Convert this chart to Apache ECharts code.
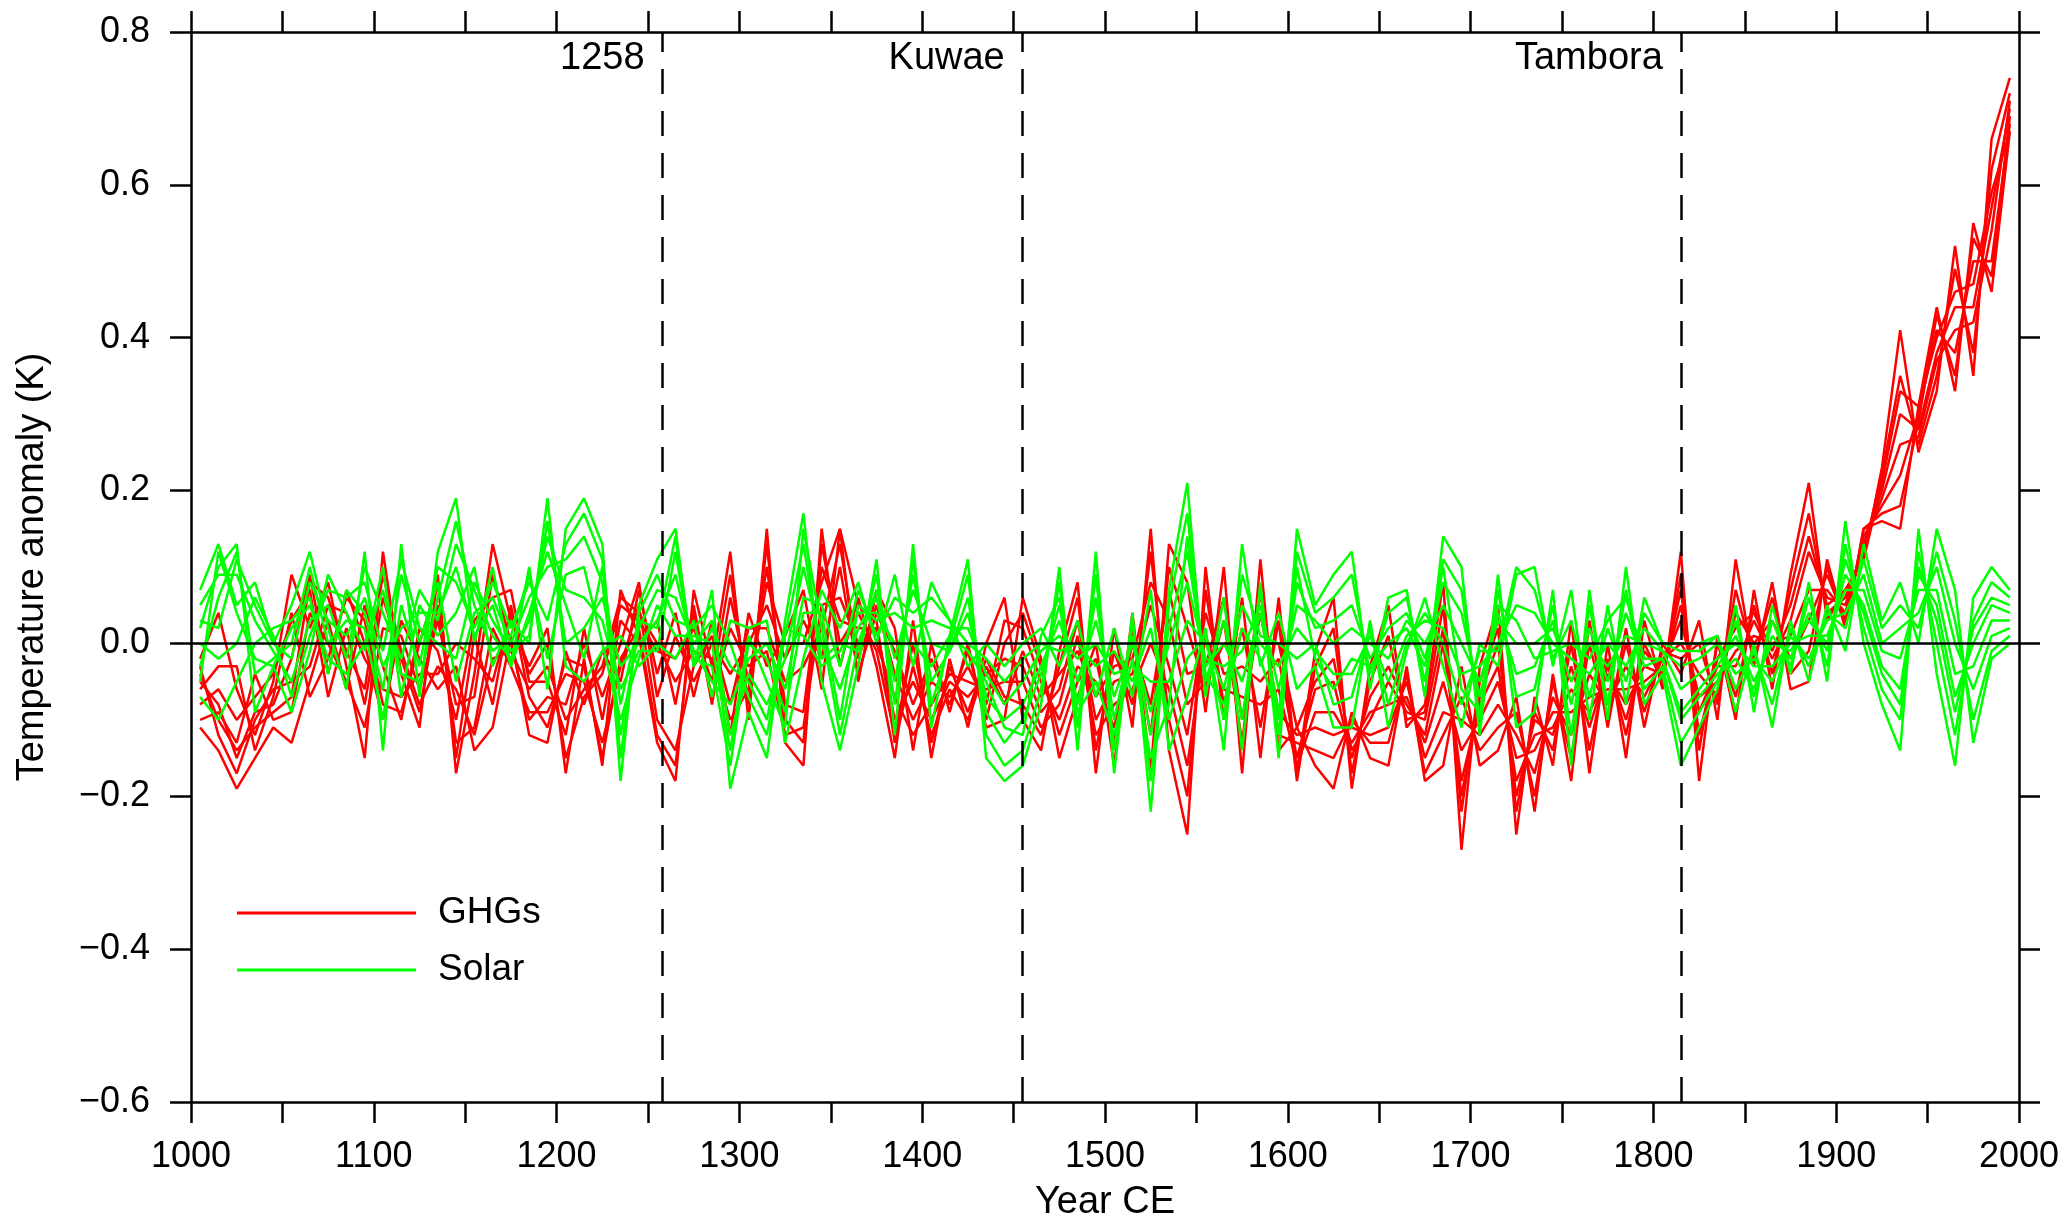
<!DOCTYPE html>
<html>
<head>
<meta charset="utf-8">
<title>GHG and solar ensemble temperature anomalies</title>
<script src="https://cdn.jsdelivr.net/npm/echarts@6/dist/echarts.min.js"></script>
<style>
  html, body { margin: 0; padding: 0; background: #ffffff; }
  #chart { width: 2069px; height: 1221px; }
</style>
</head>
<body>
<div id="chart"></div>
<script>
// Decadal-mean years (centres of each decade)
const years = [1005,1015,1025,1035,1045,1055,1065,1075,1085,1095,
  1105,1115,1125,1135,1145,1155,1165,1175,1185,1195,
  1205,1215,1225,1235,1245,1255,1265,1275,1285,1295,
  1305,1315,1325,1335,1345,1355,1365,1375,1385,1395,
  1405,1415,1425,1435,1445,1455,1465,1475,1485,1495,
  1505,1515,1525,1535,1545,1555,1565,1575,1585,1595,
  1605,1615,1625,1635,1645,1655,1665,1675,1685,1695,
  1705,1715,1725,1735,1745,1755,1765,1775,1785,1795,
  1805,1815,1825,1835,1845,1855,1865,1875,1885,1895,
  1905,1915,1925,1935,1945,1955,1965,1975,1985,1995];

// GHG-only ensemble members, temperature anomaly (K)
const ghgRun1 = [-0.02,0.04,-0.06,-0.12,-0.05,0.09,0.02,0.08,-0.03,-0.15,
  0.12,-0.04,-0.11,0.09,-0.17,-0.04,0.13,0.03,-0.03,0.02,
  -0.17,-0.02,-0.16,0.07,0.01,-0.13,-0.18,0.07,-0.03,0.12,
  -0.10,0.15,-0.13,-0.16,0.15,-0.03,0.06,-0.03,-0.15,0.03,
  -0.15,-0.02,-0.11,0.00,0.06,-0.10,-0.14,-0.01,0.08,-0.17,
  0.02,-0.11,0.15,-0.14,-0.25,0.10,-0.10,0.06,-0.15,0.06,
  -0.17,-0.01,0.06,-0.19,-0.03,0.05,-0.11,-0.08,0.08,-0.27,
  -0.03,0.05,-0.25,-0.07,-0.16,0.03,-0.17,0.00,-0.15,0.03,
  -0.06,0.12,-0.18,0.01,-0.10,0.07,-0.06,0.09,0.21,0.03,
  0.07,0.11,0.23,0.41,0.25,0.33,0.52,0.35,0.66,0.74];
const ghgRun2 = [-0.05,-0.08,-0.15,-0.09,-0.08,-0.02,0.09,-0.04,0.07,0.00,
  -0.10,0.03,-0.02,-0.06,-0.03,-0.14,-0.11,0.01,-0.12,-0.13,
  -0.01,-0.08,-0.01,-0.05,0.07,-0.04,0.04,-0.07,0.03,-0.12,
  0.04,-0.03,0.01,0.07,-0.06,0.15,-0.05,0.07,0.02,-0.14,
  0.00,-0.09,0.00,-0.11,-0.10,0.06,-0.02,-0.15,-0.07,0.00,
  -0.16,0.04,-0.17,0.13,0.08,-0.09,0.10,-0.17,0.11,-0.14,
  -0.11,-0.16,-0.19,-0.09,-0.15,-0.16,-0.03,-0.18,-0.16,-0.03,
  -0.16,-0.14,-0.07,-0.22,-0.04,-0.18,0.03,-0.11,0.02,-0.11,
  0.00,-0.04,0.03,-0.10,0.11,-0.03,0.08,-0.06,-0.05,0.11,
  0.02,0.15,0.16,0.15,0.31,0.44,0.33,0.55,0.46,0.67];
const ghgRun3 = [-0.11,-0.14,-0.19,-0.15,-0.11,-0.13,-0.05,0.03,-0.06,0.05,
  -0.03,-0.10,0.02,-0.01,-0.10,0.03,0.06,0.07,-0.05,-0.05,
  -0.12,0.02,-0.10,0.03,0.00,0.03,-0.08,0.05,-0.08,0.06,
  -0.05,0.10,-0.08,-0.09,0.10,0.03,0.02,0.02,-0.10,-0.05,
  -0.10,-0.05,-0.07,-0.04,-0.02,-0.03,-0.09,-0.06,0.03,-0.10,
  -0.05,-0.04,0.05,-0.03,-0.12,0.04,-0.04,-0.03,-0.05,-0.02,
  -0.15,-0.06,-0.05,-0.15,-0.07,-0.03,-0.08,-0.12,0.00,-0.18,
  -0.08,-0.03,-0.18,-0.12,-0.11,-0.06,-0.09,-0.04,-0.08,-0.03,
  -0.04,0.05,-0.09,-0.03,-0.03,0.03,-0.02,0.03,0.12,0.06,
  0.05,0.13,0.20,0.30,0.28,0.38,0.44,0.44,0.57,0.70];
const ghgRun4 = [-0.08,-0.06,-0.10,-0.07,-0.04,0.03,0.07,-0.07,0.02,-0.08,
  0.06,-0.02,-0.09,0.05,-0.13,-0.11,0.02,-0.03,-0.09,-0.09,
  -0.04,-0.05,-0.13,-0.03,0.05,-0.10,-0.14,-0.03,0.01,-0.08,
  0.02,0.02,-0.05,-0.03,0.02,0.13,-0.02,0.05,-0.04,-0.10,
  -0.05,-0.07,-0.03,-0.08,0.03,0.02,-0.05,-0.10,-0.03,-0.05,
  -0.11,0.00,-0.08,0.07,-0.04,-0.03,0.06,-0.10,0.04,-0.09,
  -0.12,-0.11,-0.12,-0.11,-0.12,-0.11,-0.05,-0.15,-0.09,-0.10,
  -0.12,-0.08,-0.12,-0.17,-0.07,-0.12,-0.04,-0.08,-0.03,-0.07,
  -0.02,0.00,-0.04,-0.07,0.04,0.00,0.03,-0.02,0.03,0.09,
  0.03,0.14,0.18,0.22,0.30,0.41,0.38,0.50,0.50,0.68];
const ghgRun5 = [-0.03,-0.12,-0.17,-0.10,-0.06,-0.05,-0.03,0.05,0.04,-0.02,
  -0.06,-0.07,-0.04,-0.04,0.00,-0.02,-0.05,0.04,-0.04,0.00,
  -0.15,-0.07,-0.04,0.05,0.03,-0.01,-0.02,0.02,-0.05,0.09,
  -0.08,0.13,-0.10,-0.13,0.13,0.00,0.04,-0.01,-0.12,0.00,
  -0.13,-0.03,-0.09,-0.02,-0.07,-0.08,-0.12,-0.03,0.06,-0.14,
  -0.01,-0.08,0.12,-0.10,-0.20,0.07,-0.08,0.02,-0.11,0.03,
  -0.18,-0.03,0.02,-0.17,-0.05,0.01,-0.10,-0.09,0.05,-0.22,
  -0.05,0.02,-0.22,-0.09,-0.14,0.00,-0.14,-0.02,-0.12,0.00,
  -0.05,0.09,-0.14,0.00,-0.07,0.05,-0.04,0.07,0.17,0.04,
  0.06,0.12,0.22,0.35,0.26,0.35,0.49,0.38,0.62,0.72];
const ghgRun6 = [-0.10,-0.09,-0.13,-0.04,-0.10,-0.09,0.04,0.00,-0.05,-0.11,
  0.02,0.01,-0.06,0.03,-0.08,-0.07,0.09,0.00,-0.10,-0.07,
  -0.08,0.00,-0.07,0.00,0.08,-0.07,0.01,-0.05,0.00,-0.04,
  0.00,0.05,-0.02,0.03,-0.02,0.10,-0.04,0.04,-0.01,-0.08,
  -0.02,-0.08,-0.01,-0.10,0.00,0.04,-0.03,-0.12,-0.05,-0.02,
  -0.13,0.02,-0.12,0.10,0.02,-0.06,0.03,-0.13,0.07,-0.12,
  -0.13,-0.14,-0.15,-0.10,-0.13,-0.13,-0.04,-0.17,-0.12,-0.07,
  -0.14,-0.11,-0.09,-0.20,-0.05,-0.15,0.00,-0.10,0.00,-0.09,
  -0.01,-0.02,0.00,-0.08,0.07,-0.02,0.06,-0.04,-0.01,0.10,
  0.02,0.15,0.17,0.18,0.29,0.43,0.35,0.53,0.48,0.69];
const ghgRun7 = [-0.06,-0.03,-0.03,-0.14,-0.07,0.04,-0.07,-0.02,0.06,0.03,
  -0.08,-0.09,0.00,0.08,-0.15,0.01,-0.08,0.05,-0.07,-0.11,
  -0.02,-0.03,-0.15,-0.02,0.02,-0.12,-0.16,0.04,-0.07,0.02,
  -0.03,-0.01,-0.12,-0.11,0.05,0.06,0.00,0.00,-0.07,-0.12,
  -0.08,-0.04,-0.05,-0.06,-0.05,-0.05,-0.11,-0.08,0.01,-0.12,
  -0.08,-0.06,0.00,-0.06,-0.16,0.01,-0.06,-0.07,-0.08,-0.06,
  -0.16,-0.09,-0.09,-0.13,-0.09,-0.08,-0.07,-0.13,-0.05,-0.14,
  -0.10,-0.05,-0.15,-0.14,-0.09,-0.09,-0.07,-0.06,-0.06,-0.05,
  -0.03,0.03,-0.07,-0.05,-0.01,0.01,0.00,0.01,0.07,0.07,
  0.04,0.13,0.19,0.26,0.27,0.37,0.41,0.42,0.54,0.71];
const ghgRun8 = [-0.04,-0.10,-0.14,-0.11,-0.09,-0.07,0.08,0.06,-0.01,-0.06,
  0.09,-0.01,-0.08,-0.03,-0.06,-0.12,-0.02,-0.01,-0.06,-0.03,
  -0.10,-0.06,-0.03,0.06,0.04,0.00,-0.05,-0.01,-0.02,-0.10,
  -0.06,0.08,0.00,0.00,0.08,0.15,0.05,0.03,-0.13,-0.03,
  -0.12,-0.06,-0.10,-0.03,-0.08,-0.01,-0.07,-0.04,-0.01,-0.07,
  -0.03,-0.02,0.08,0.03,-0.08,-0.05,0.00,0.00,0.00,0.00,
  -0.11,-0.05,-0.02,-0.14,-0.10,-0.05,-0.09,-0.10,0.02,-0.20,
  -0.07,0.00,-0.20,-0.10,-0.12,-0.03,-0.11,-0.03,-0.10,-0.01,
  -0.04,0.07,-0.12,-0.02,0.02,0.04,-0.01,0.05,0.14,0.05,
  0.07,0.11,0.21,0.33,0.31,0.40,0.46,0.47,0.59,0.67];

// Solar-only ensemble members, temperature anomaly (K)
const solarRun1 = [0.07,0.13,0.05,0.08,0.00,0.05,0.12,0.02,-0.06,0.12,
  -0.14,0.13,-0.07,0.12,0.19,0.00,0.10,-0.03,0.10,-0.06,
  0.15,0.19,0.13,-0.18,0.05,0.11,0.15,-0.03,0.07,-0.19,
  -0.09,-0.15,0.03,0.17,-0.05,-0.14,-0.03,0.11,-0.12,0.13,
  -0.11,0.01,0.11,-0.15,-0.18,-0.16,-0.08,0.10,-0.14,0.12,
  -0.17,0.04,-0.22,0.07,0.21,-0.07,0.06,-0.14,0.08,-0.15,
  0.15,0.05,0.09,0.12,-0.06,0.06,0.07,-0.07,0.14,0.10,
  -0.12,0.09,-0.11,-0.09,0.07,-0.16,0.07,-0.10,0.10,-0.08,
  -0.04,-0.16,-0.11,-0.06,0.05,-0.09,0.05,-0.04,0.08,-0.05,
  0.16,0.00,-0.08,-0.14,0.15,-0.04,-0.16,0.06,0.10,0.07];
const solarRun2 = [0.02,0.10,0.13,-0.09,-0.03,-0.09,-0.01,0.09,0.04,-0.01,
  0.10,-0.07,0.05,0.01,0.04,0.10,-0.03,0.03,0.00,0.19,
  -0.03,-0.05,-0.01,0.01,-0.03,0.00,-0.02,0.03,-0.07,0.03,
  0.02,0.03,-0.13,-0.02,0.07,0.02,0.08,0.00,0.09,-0.03,
  0.08,0.03,-0.03,0.00,-0.03,0.00,0.02,-0.03,0.03,-0.07,
  0.02,-0.07,0.07,-0.14,-0.07,0.02,-0.14,0.13,-0.03,0.04,
  -0.06,-0.03,-0.11,-0.11,0.03,-0.11,-0.01,0.06,-0.03,-0.11,
  0.00,-0.03,0.09,0.10,-0.03,0.07,-0.10,0.05,-0.08,0.06,
  0.00,0.00,0.00,0.01,-0.09,0.00,-0.11,0.03,-0.05,0.05,
  -0.01,0.13,0.03,0.08,0.00,0.15,0.07,-0.13,-0.02,0.00];
const solarRun3 = [-0.07,-0.10,-0.05,0.00,0.02,0.03,0.06,-0.04,0.07,0.04,
  -0.06,0.09,0.00,0.08,-0.05,0.04,0.06,0.00,0.06,0.10,
  0.11,0.14,0.08,-0.12,0.02,0.07,0.06,0.00,0.03,-0.12,
  -0.04,-0.08,-0.02,0.10,0.00,-0.06,0.02,0.06,-0.05,0.09,
  -0.05,-0.01,0.06,-0.09,-0.13,-0.10,-0.04,0.05,-0.08,0.06,
  -0.10,0.01,-0.12,0.02,0.12,-0.03,0.00,-0.05,0.04,-0.09,
  0.08,0.02,0.03,0.05,-0.02,0.02,0.04,-0.02,0.08,0.04,
  -0.07,0.04,-0.04,-0.03,0.03,-0.08,0.02,-0.05,0.04,-0.03,
  -0.02,-0.09,-0.06,-0.03,0.01,-0.05,0.00,-0.01,0.03,0.00,
  0.09,0.05,-0.03,-0.06,0.09,0.05,-0.07,0.00,0.05,0.04];
const solarRun4 = [0.05,0.09,0.09,0.03,-0.01,-0.05,0.03,0.05,-0.02,0.10,
  0.04,-0.02,0.07,0.03,0.13,0.07,0.01,-0.02,0.03,0.14,
  0.07,0.06,0.03,-0.06,-0.01,-0.01,0.12,-0.02,-0.03,-0.16,
  0.00,-0.02,-0.09,0.04,0.04,-0.10,0.05,0.03,0.04,0.02,
  0.03,0.02,0.02,-0.04,-0.08,-0.05,-0.01,0.01,-0.02,0.00,
  -0.04,-0.03,-0.05,-0.05,0.03,0.00,-0.06,0.05,0.00,-0.03,
  0.02,-0.01,-0.04,-0.04,0.01,-0.05,0.01,0.03,0.02,-0.04,
  -0.03,0.00,0.05,0.04,0.00,-0.02,-0.04,0.00,-0.03,0.02,
  -0.01,-0.03,-0.02,0.00,-0.04,-0.02,-0.05,0.01,-0.02,0.03,
  0.04,0.09,0.00,0.02,0.04,0.10,0.00,-0.06,0.01,0.02];
const solarRun5 = [-0.03,0.06,0.12,-0.04,-0.02,0.00,0.10,0.00,0.03,0.02,
  -0.10,0.05,-0.03,0.10,0.08,0.02,0.08,0.02,0.08,0.03,
  0.13,0.17,0.11,-0.15,0.04,0.09,0.03,0.02,0.05,0.00,
  -0.07,-0.12,0.01,0.13,-0.02,0.00,-0.01,0.09,-0.08,0.11,
  -0.08,0.00,0.09,-0.12,-0.16,-0.14,-0.06,0.08,-0.11,0.09,
  -0.14,0.03,-0.18,0.05,0.17,-0.05,0.03,-0.10,0.07,-0.12,
  0.12,0.04,0.06,0.09,-0.04,0.04,0.06,-0.05,0.11,0.07,
  -0.10,0.07,-0.07,-0.06,0.05,-0.12,0.05,-0.08,0.07,-0.06,
  -0.03,-0.13,-0.09,-0.05,0.03,-0.07,0.03,-0.03,0.06,-0.03,
  0.13,0.02,-0.06,-0.10,0.12,0.00,-0.12,0.03,0.08,0.06];
const solarRun6 = [0.00,-0.02,0.00,0.06,0.01,-0.07,0.01,0.07,0.06,0.08,
  -0.01,0.11,0.02,0.00,-0.02,0.08,0.03,-0.01,0.01,0.16,
  0.00,0.02,0.06,-0.03,0.00,0.03,0.09,-0.01,-0.05,-0.08,
  -0.02,0.00,-0.06,0.06,0.05,-0.03,0.07,0.01,0.06,0.04,
  0.06,0.03,0.00,-0.02,-0.05,-0.02,0.00,-0.01,0.00,-0.03,
  -0.01,-0.05,0.02,-0.10,-0.02,0.01,-0.10,0.09,0.01,0.00,
  -0.02,0.00,-0.08,-0.07,0.02,-0.08,0.00,0.04,0.00,-0.08,
  -0.01,-0.01,0.10,0.07,-0.02,0.03,-0.07,0.02,-0.05,0.04,
  0.00,-0.01,-0.01,0.01,-0.06,-0.01,-0.08,0.02,-0.03,0.04,
  0.02,0.11,0.02,0.05,0.02,0.12,0.03,-0.10,-0.01,0.01];
const solarRun7 = [-0.05,0.12,0.04,-0.02,-0.03,0.02,0.05,-0.02,-0.04,0.00,
  0.07,-0.04,-0.05,0.06,0.16,0.05,-0.01,0.01,0.09,-0.02,
  0.09,0.10,0.00,-0.10,-0.02,0.05,0.01,0.01,0.00,-0.14,
  0.01,-0.05,-0.11,0.15,0.02,-0.12,0.00,0.07,-0.02,0.07,
  0.00,-0.01,0.04,-0.07,-0.10,-0.08,-0.03,0.03,-0.05,0.03,
  -0.07,0.00,-0.09,0.00,0.08,-0.02,-0.03,-0.01,0.05,-0.06,
  0.05,0.03,0.00,0.02,0.00,-0.02,0.03,0.00,0.05,0.00,
  -0.05,0.03,0.00,0.00,0.02,-0.05,0.00,-0.03,0.01,0.00,
  -0.01,-0.06,-0.04,-0.02,0.00,-0.03,-0.03,0.00,0.01,0.01,
  0.07,0.07,-0.01,-0.02,0.07,0.07,-0.04,-0.03,0.03,0.03];
const solarRun8 = [0.03,0.02,0.11,0.05,0.00,-0.02,0.08,0.03,0.01,0.06,
  -0.03,0.02,0.04,0.04,0.10,0.01,0.05,-0.03,0.04,0.12,
  0.05,-0.02,0.10,-0.08,0.03,0.02,0.14,-0.03,0.02,-0.03,
  -0.05,-0.10,0.02,0.01,-0.03,-0.01,0.04,0.04,0.00,0.00,
  -0.03,0.01,-0.01,-0.05,-0.11,-0.12,0.01,0.06,-0.09,-0.05,
  -0.12,-0.02,-0.15,-0.08,0.14,-0.04,-0.08,0.02,-0.02,-0.10,
  0.10,-0.02,-0.06,-0.02,-0.03,0.00,0.02,-0.03,0.10,-0.06,
  -0.09,0.05,0.03,-0.02,-0.01,0.00,-0.02,0.03,0.06,-0.02,
  -0.02,-0.10,-0.07,-0.04,-0.02,-0.06,0.01,-0.02,0.04,-0.01,
  0.11,0.04,-0.04,-0.08,0.10,0.03,-0.09,0.02,0.06,0.05];

const ghgRuns = [ghgRun1, ghgRun2, ghgRun3, ghgRun4, ghgRun5, ghgRun6, ghgRun7, ghgRun8];
const solarRuns = [solarRun1, solarRun2, solarRun3, solarRun4, solarRun5, solarRun6, solarRun7, solarRun8];

// Major eruptions marked on the record
const eruptionYears = [1258, 1455, 1815];
const eruptionNames = ['1258', 'Kuwae', 'Tambora'];

const FONT = '"Liberation Sans", Arial, sans-serif';
const RED = '#ff0000';
const GREEN = '#00ff00';

function fmtY(v) {
  const s = Math.abs(v).toFixed(1);
  return v < -1e-9 ? '\u2212' + s : s;
}

function runSeries(runs, name, color) {
  return runs.map(run => ({
    name: name,
    type: 'line',
    data: years.map((y, i) => [y, run[i]]),
    showSymbol: false,
    symbol: 'none',
    lineStyle: { color: color, width: 2.5 },
    itemStyle: { color: color },
    emphasis: { disabled: true },
    silent: true,
    z: 3
  }));
}

const axisLine = { show: true, onZero: false, lineStyle: { color: '#000', width: 2.5 } };
const axisTick = { show: true, inside: false, length: 21, lineStyle: { color: '#000', width: 2.5 } };
const labelStyle = { color: '#000', fontFamily: FONT, fontSize: 36 };

const series = []
  .concat(runSeries(ghgRuns, 'GHGs', RED))
  .concat(runSeries(solarRuns, 'Solar', GREEN));

// zero reference line (under the ensemble)
series.push({
  name: 'zero', type: 'line', data: [], z: 1, silent: true,
  markLine: {
    silent: true, symbol: ['none', 'none'], animation: false,
    label: { show: false },
    lineStyle: { color: '#000', width: 2.5, type: 'solid' },
    data: [{ yAxis: 0 }]
  }
});
// eruption markers (over the ensemble)
series.push({
  name: 'eruptions', type: 'line', data: [], z: 6, silent: true,
  markLine: {
    silent: true, symbol: ['none', 'none'], animation: false,
    label: { show: false },
    lineStyle: { color: '#000', width: 2.5, type: [25, 17] },
    data: eruptionYears.map(y => ({ xAxis: y }))
  }
});

const chart = echarts.init(document.getElementById('chart'), null, { renderer: 'canvas' });

chart.setOption({
  animation: false,
  backgroundColor: '#ffffff',
  grid: { left: 191, right: 50, top: 32, bottom: 119, containLabel: false, outerBoundsMode: 'none' },
  legend: {
    data: ['GHGs', 'Solar'],
    orient: 'vertical',
    left: 237,
    top: 893,
    padding: 0,
    icon: 'rect',
    itemWidth: 179,
    itemHeight: 3,
    itemGap: 17,
    selectedMode: false,
    textStyle: { color: '#000', fontFamily: FONT, fontSize: 37, lineHeight: 40, padding: [0, 0, 0, 17] }
  },
  xAxis: [
    {
      type: 'value', position: 'bottom', min: 1000, max: 2000, interval: 50,
      name: 'Year CE', nameLocation: 'middle', nameGap: 82,
      nameTextStyle: { color: '#000', fontFamily: FONT, fontSize: 38 },
      axisLine: axisLine, axisTick: axisTick,
      axisLabel: Object.assign({
        margin: 37, showMinLabel: true, showMaxLabel: true,
        formatter: v => (v % 100 === 0 ? String(v) : '')
      }, labelStyle),
      splitLine: { show: false }
    },
    {
      type: 'value', position: 'top', min: 1000, max: 2000, interval: 50,
      axisLine: axisLine, axisTick: axisTick,
      axisLabel: { show: false }, splitLine: { show: false }
    }
  ],
  yAxis: [
    {
      type: 'value', position: 'left', min: -0.6, max: 0.8, interval: 0.2,
      name: 'Temperature anomaly (K)', nameLocation: 'middle', nameGap: 139, nameRotate: 90,
      nameTextStyle: { color: '#000', fontFamily: FONT, fontSize: 38 },
      axisLine: axisLine, axisTick: axisTick,
      axisLabel: Object.assign({ margin: 41, formatter: fmtY }, labelStyle),
      splitLine: { show: false }
    },
    {
      type: 'value', position: 'right', min: -0.6, max: 0.8, interval: 0.2,
      axisLine: axisLine, axisTick: axisTick,
      axisLabel: { show: false }, splitLine: { show: false }
    }
  ],
  series: series
});

// eruption names, right-aligned just left of each marker line
const labelEls = eruptionYears.map((y, i) => {
  const px = chart.convertToPixel({ xAxisIndex: 0 }, y);
  return {
    type: 'text',
    x: px - 18,
    y: 59,
    z: 10,
    style: {
      text: eruptionNames[i],
      fill: '#000',
      font: '38px ' + FONT,
      textAlign: 'right',
      textVerticalAlign: 'middle'
    }
  };
});
chart.setOption({ graphic: labelEls });
</script>
</body>
</html>
